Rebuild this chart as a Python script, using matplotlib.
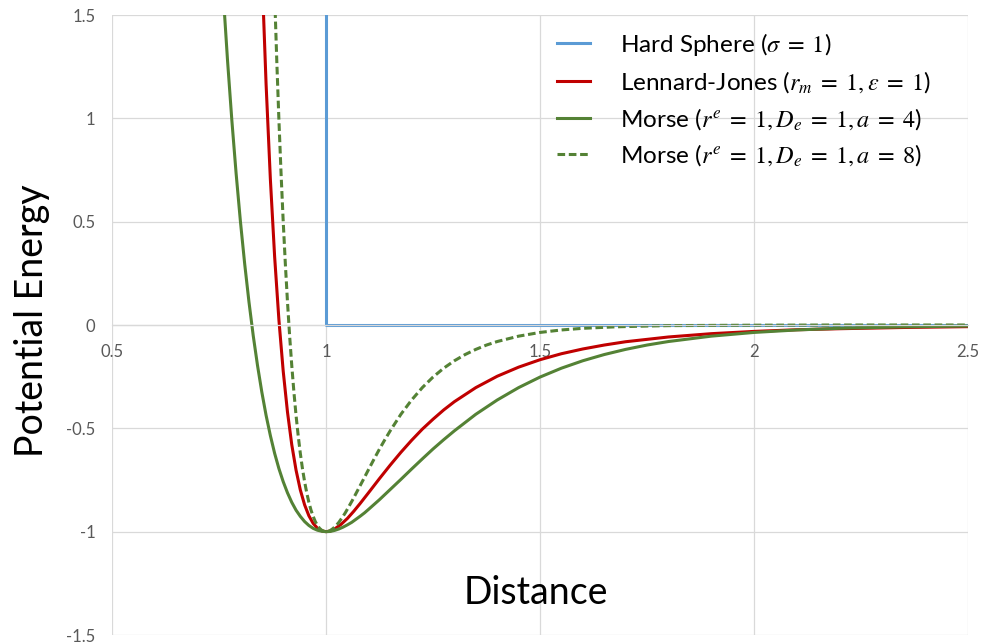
import matplotlib
matplotlib.use("Agg")
import matplotlib.pyplot as plt

# values
hs_x = [1.0, 1.0, 2.5]
hs_y = [5.0, 0.0, 0.0]

lj_x = [0.84, 0.85, 0.86, 0.87, 0.88, 0.89, 0.90, 0.91, 0.92, 0.93, 0.94, 0.95,
        0.96, 0.97, 0.98, 0.99, 1.00, 1.01, 1.02, 1.035, 1.05, 1.065, 1.08, 1.10,
        1.125, 1.15, 1.175, 1.20, 1.225, 1.25, 1.275, 1.30, 1.35, 1.40, 1.45, 1.50,
        1.55, 1.60, 1.65, 1.70, 1.80, 1.90, 2.00, 2.10, 2.20, 2.35, 2.50]
lj_y = [2.410, 1.728, 1.166, 0.706, 0.330, 0.024, -0.223, -0.421, -0.579, -0.702,
        -0.798, -0.870, -0.923, -0.960, -0.983, -0.996, -1.000, -0.997, -0.987,
        -0.965, -0.936, -0.901, -0.863, -0.810, -0.743, -0.678, -0.616, -0.558,
        -0.504, -0.456, -0.411, -0.371, -0.303, -0.248, -0.204, -0.168, -0.139,
        -0.116, -0.097, -0.081, -0.058, -0.042, -0.031, -0.023, -0.018, -0.012,
        -0.008]

m4_x = [0.75, 0.76, 0.77, 0.78, 0.79, 0.80, 0.81, 0.82, 0.83, 0.84, 0.85, 0.86,
        0.87, 0.88, 0.89, 0.90, 0.91, 0.92, 0.93, 0.94, 0.95, 0.96, 0.97, 0.98,
        0.99, 1.00, 1.01, 1.02, 1.03, 1.04, 1.05, 1.06, 1.07, 1.08, 1.09, 1.10,
        1.125, 1.15, 1.175, 1.20, 1.225, 1.25, 1.275, 1.30, 1.35, 1.40, 1.45, 1.50,
        1.55, 1.60, 1.65, 1.70, 1.75, 1.80, 1.90, 2.00, 2.10, 2.20, 2.35, 2.50]
m4_y = [1.952, 1.598, 1.278, 0.991, 0.733, 0.502, 0.296, 0.112, -0.052, -0.196,
        -0.324, -0.437, -0.535, -0.621, -0.695, -0.758, -0.812, -0.858, -0.896,
        -0.926, -0.951, -0.970, -0.984, -0.993, -0.998, -1.000, -0.999, -0.994,
        -0.987, -0.978, -0.967, -0.955, -0.940, -0.925, -0.909, -0.891, -0.845,
        -0.796, -0.747, -0.697, -0.648, -0.600, -0.555, -0.512, -0.432, -0.363,
        -0.303, -0.252, -0.209, -0.173, -0.143, -0.118, -0.097, -0.080, -0.054,
        -0.036, -0.024, -0.016, -0.009, -0.005]

m8_x = [0.875, 0.88, 0.885, 0.89, 0.895, 0.90, 0.905, 0.91, 0.915, 0.92, 0.925,
        0.93, 0.935, 0.94, 0.945, 0.95, 0.955, 0.96, 0.965, 0.97, 0.975, 0.98,
        0.985, 0.99, 0.995, 1.00, 1.005, 1.01, 1.015, 1.02, 1.025, 1.03, 1.035,
        1.04, 1.045, 1.05, 1.0625, 1.075, 1.0875, 1.10, 1.1125, 1.125, 1.1375,
        1.15, 1.175, 1.20, 1.225, 1.25, 1.275, 1.30, 1.325, 1.35, 1.375, 1.40,
        1.45, 1.50, 1.55, 1.60, 1.675, 1.75, 1.80, 2.00, 2.20, 2.50]
m8_y = [1.952, 1.598, 1.278, 0.991, 0.733, 0.502, 0.296, 0.112, -0.052, -0.196,
        -0.324, -0.437, -0.535, -0.621, -0.695, -0.758, -0.812, -0.858, -0.896,
        -0.926, -0.951, -0.970, -0.984, -0.993, -0.998, -1.000, -0.999, -0.994,
        -0.987, -0.978, -0.967, -0.955, -0.940, -0.925, -0.909, -0.891, -0.845,
        -0.796, -0.747, -0.697, -0.648, -0.600, -0.555, -0.512, -0.432, -0.363,
        -0.303, -0.252, -0.209, -0.173, -0.143, -0.118, -0.097, -0.080, -0.054,
        -0.036, -0.024, -0.016, -0.009, -0.005, -0.003, -0.001, 0.000, 0.000]

labels = ["Hard Sphere ($\\sigma\\;=\\;1$)",
          "Lennard-Jones ($r_m\\;=\\;1, \\varepsilon\\;=\\;1$)",
          "Morse ($r^e\\;=\\;1, D_e\\;=\\;1, a\\;=\\;4$)",
          "Morse ($r^e\\;=\\;1, D_e\\;=\\;1, a\\;=\\;8$)"]

x_ticks = [0.5, 1, 1.5, 2, 2.5]
y_ticks = [-1.5, -1, -0.5, 0, 0.5, 1, 1.5]

plt.rcParams['font.family'] = ['Lato', 'DejaVu Sans']
plt.rcParams['mathtext.fontset'] = 'stix'

blue = '#5b9bd5'
red = '#c00000'
green = '#548235'
grid_c = '#d9d9d9'
tick_c = '#595959'

fig = plt.figure(figsize=(9.84, 6.44), dpi=100)
ax = fig.add_axes([112 / 984, 1 - 635 / 644, 856 / 984, 620 / 644])

lw = 2.2
ax.plot(hs_x, hs_y, color=blue, lw=lw, label=labels[0])
ax.plot(lj_x, lj_y, color=red, lw=lw, label=labels[1])
ax.plot(m4_x, m4_y, color=green, lw=lw, label=labels[2])
ax.plot(m8_x, m8_y, color=green, lw=lw, dashes=(2.5, 1.2), label=labels[3])

ax.set_xlim(0.5, 2.5)
ax.set_ylim(-1.5, 1.5)
ax.set_xticks(x_ticks)
ax.set_xticklabels(['0.5', '1', '1.5', '2', '2.5'])
ax.set_yticks(y_ticks)
ax.set_yticklabels(['-1.5', '-1', '-0.5', '0', '0.5', '1', '1.5'])

ax.grid(True, color=grid_c, lw=0.9)
ax.set_axisbelow(True)
for s in ['top', 'right', 'left']:
    ax.spines[s].set_visible(False)
ax.spines['bottom'].set_position(('data', 0))
ax.spines['bottom'].set_color(grid_c)
ax.spines['bottom'].set_linewidth(0.9)
ax.tick_params(axis='both', length=0, colors=tick_c, labelsize=12)
ax.tick_params(axis='x', pad=14)
ax.tick_params(axis='y', pad=12)

fig.text(32 / 984, 1 - 321 / 644, "Potential Energy", rotation=90,
         fontsize=27, ha='center', va='center', color='black')
fig.text(536 / 984, 1 - 593 / 644, "Distance", fontsize=27,
         ha='center', va='center', color='black')

ax.legend(loc='upper left', bbox_to_anchor=((557 - 112) / 856, (635 - 31) / 620),
          frameon=False, fontsize=17.5, handlelength=1.36, handletextpad=1.23,
          labelspacing=0.45, borderpad=0, borderaxespad=0)

fig.savefig("out.png", dpi=100, facecolor='white')
